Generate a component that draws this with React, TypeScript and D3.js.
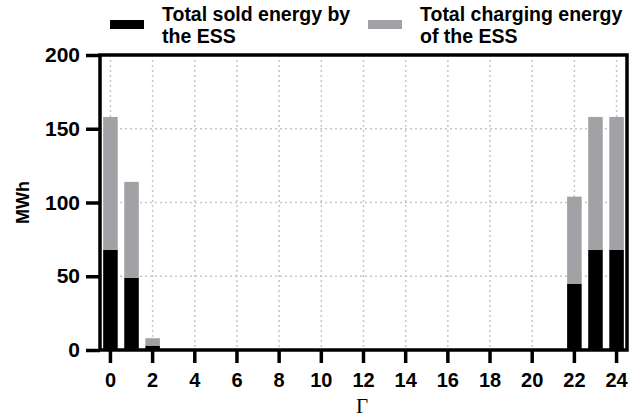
import React, { useRef, useEffect } from 'react';
import * as d3 from 'd3';

const hours = d3.range(0, 25);
// values (MWh)
const soldEnergy: Record<number, number> = { 0: 68, 1: 49, 2: 3, 22: 45, 23: 68, 24: 68 };
const chargingEnergy: Record<number, number> = { 0: 90, 1: 65, 2: 5, 22: 59, 23: 90, 24: 90 };
const yTicks = [0, 50, 100, 150, 200];
const xTicks = d3.range(0, 25, 2);
const legendItems = [
  { lines: ['Total sold energy by', 'the ESS'], color: '#000000' },
  { lines: ['Total charging energy', 'of the ESS'], color: '#a2a2a6' },
];

const W = 636;
const H = 417;
const FONT = '"Liberation Sans", Arial, sans-serif';

const App: React.FC = () => {
  const svgRef = useRef<SVGSVGElement>(null);

  useEffect(() => {
    if (!svgRef.current) return;
    const svg = d3.select(svgRef.current);
    svg.selectAll('*').remove();

    const frame = { left: 100, right: 627, top: 55, bottom: 350 };

    const x = d3.scaleBand<number>().domain(hours).range([frame.left, frame.right]).paddingInner(0.31).paddingOuter(0.15);
    const y = d3.scaleLinear().domain([0, 200]).range([frame.bottom, frame.top]);

    // dotted grid
    const grid = svg.append('g').attr('stroke', '#c6c6c6').attr('stroke-width', 1.5).attr('stroke-dasharray', '2,3');
    grid.selectAll('line.v').data(xTicks).join('line')
      .attr('x1', d => x(d)! + x.bandwidth() / 2).attr('x2', d => x(d)! + x.bandwidth() / 2)
      .attr('y1', frame.top).attr('y2', frame.bottom);
    grid.selectAll('line.h').data([50, 100, 150]).join('line')
      .attr('x1', frame.left).attr('x2', frame.right)
      .attr('y1', d => y(d)).attr('y2', d => y(d));

    // stacked bars
    const rows = hours.map(h => ({ hour: h, sold: soldEnergy[h] ?? 0, charging: chargingEnergy[h] ?? 0 }));
    const stack = d3.stack<typeof rows[number]>().keys(['sold', 'charging'])(rows as any);
    const colors = ['#000000', '#a2a2a6'];
    stack.forEach((layer, i) => {
      svg.append('g').attr('fill', colors[i]).selectAll('rect')
        .data(layer.filter(d => d[1] > d[0])).join('rect')
        .attr('x', d => x(d.data.hour)!)
        .attr('width', x.bandwidth())
        .attr('y', d => y(d[1]))
        .attr('height', d => y(d[0]) - y(d[1]));
    });

    // frame
    svg.append('rect')
      .attr('x', frame.left).attr('y', frame.top)
      .attr('width', frame.right - frame.left).attr('height', frame.bottom - frame.top)
      .attr('fill', 'none').attr('stroke', '#000').attr('stroke-width', 3.5);

    // y axis
    const yAxis = svg.append('g')
      .attr('transform', `translate(${frame.left},0)`)
      .call(d3.axisLeft(y).tickValues(yTicks).tickSize(14).tickPadding(6));
    yAxis.select('.domain').remove();
    yAxis.selectAll('line').attr('stroke-width', 3.5);
    yAxis.selectAll('text').attr('font-family', FONT).attr('font-weight', 'bold').attr('font-size', 21).attr('fill', '#000');

    // x axis
    const xAxis = svg.append('g')
      .attr('transform', `translate(0,${frame.bottom})`)
      .call(d3.axisBottom(x).tickValues(xTicks).tickSize(13).tickPadding(10));
    xAxis.select('.domain').remove();
    xAxis.selectAll('line').attr('stroke-width', 3.5);
    xAxis.selectAll('text').attr('font-family', FONT).attr('font-weight', 'bold').attr('font-size', 20).attr('fill', '#000');

    // axis titles
    svg.append('text')
      .attr('transform', `translate(29,${y(100)}) rotate(-90)`)
      .attr('text-anchor', 'middle')
      .attr('font-family', FONT).attr('font-weight', 'bold').attr('font-size', 18)
      .text('MWh');
    svg.append('text')
      .attr('x', 362).attr('y', 413)
      .attr('text-anchor', 'middle')
      .attr('font-family', '"Liberation Serif", "Times New Roman", serif').attr('font-size', 21)
      .text('Γ');

    // legend
    const legendX = [110, 368];
    legendItems.forEach((item, i) => {
      const g = svg.append('g').attr('transform', `translate(${legendX[i]},0)`);
      g.append('rect').attr('x', 0).attr('y', 20).attr('width', 34).attr('height', 9).attr('fill', item.color);
      g.selectAll('text').data(item.lines).join('text')
        .attr('x', 52).attr('y', (_, j) => 21 + j * 22)
        .attr('font-family', FONT).attr('font-weight', 'bold').attr('font-size', 19.5)
        .text(d => d);
    });
  }, []);

  return (
    <svg ref={svgRef} width={W} height={H}
      style={{ position: 'absolute', left: 0, top: 0, background: '#fff' }} />
  );
};

export default App;
